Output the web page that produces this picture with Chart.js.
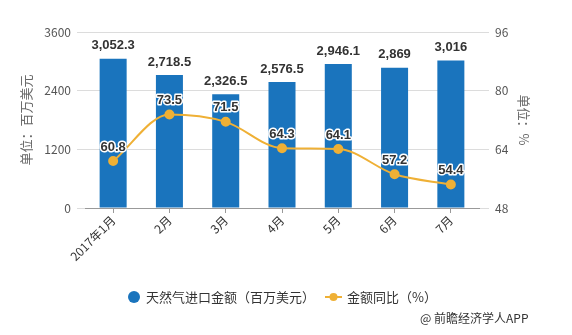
<!DOCTYPE html>
<html>
<head>
<meta charset="utf-8">
<script src="https://cdn.jsdelivr.net/npm/chart.js@4.4.0/dist/chart.umd.min.js"></script>
<style>
    body { margin: 0; background: #fff; }
    #gasChart { display: block; }
</style>
</head>
<body>
<canvas id="gasChart" width="572" height="335"></canvas>
<script>
const months = ['2017年1月', '2月', '3月', '4月', '5月', '6月', '7月'];
const importValue = [3052.3, 2718.5, 2326.5, 2576.5, 2946.1, 2869, 3016];
const yoyRate = [60.8, 73.5, 71.5, 64.3, 64.1, 57.2, 54.4];
const leftTicks = [0, 1200, 2400, 3600];
const rightTicks = [48, 64, 80, 96];

const barColor = '#1a74bd';
const lineColor = '#efb035';
const cjk = '"Noto Sans CJK SC", "Microsoft YaHei", sans-serif';

// value labels above bars and line points
const valueLabels = {
    id: 'valueLabels',
    afterDatasetsDraw(chart) {
        const ctx = chart.ctx;
        ctx.save();
        ctx.textAlign = 'center';
        ctx.textBaseline = 'middle';

        chart.getDatasetMeta(0).data.forEach((bar, i) => {
            ctx.font = 'bold 13px "Liberation Sans", Arial, sans-serif';
            ctx.fillStyle = '#333';
            ctx.fillText(importValue[i].toLocaleString('en-US'), bar.x, bar.y - 13);
        });

        chart.getDatasetMeta(1).data.forEach((pt, i) => {
            ctx.font = 'bold 13px "Liberation Sans", Arial, sans-serif';
            ctx.lineWidth = 3;
            ctx.strokeStyle = '#fff';
            ctx.lineJoin = 'round';
            ctx.strokeText(yoyRate[i].toFixed(1), pt.x, pt.y - 14);
            ctx.fillStyle = '#333';
            ctx.fillText(yoyRate[i].toFixed(1), pt.x, pt.y - 14);
        });
        ctx.restore();
    }
};

// legend and source line under the chart
const bottomText = {
    id: 'bottomText',
    afterDraw(chart) {
        const ctx = chart.ctx;
        ctx.save();
        ctx.textBaseline = 'middle';
        ctx.font = '13px ' + cjk;
        ctx.fillStyle = '#333';

        ctx.beginPath();
        ctx.arc(134, 297, 6, 0, Math.PI * 2);
        ctx.fillStyle = barColor;
        ctx.fill();
        ctx.fillStyle = '#333';
        ctx.fillText(chart.data.datasets[0].label, 146, 297);

        ctx.strokeStyle = lineColor;
        ctx.lineWidth = 2;
        ctx.beginPath();
        ctx.moveTo(325, 297);
        ctx.lineTo(342, 297);
        ctx.stroke();
        ctx.beginPath();
        ctx.arc(333.5, 297, 4, 0, Math.PI * 2);
        ctx.fillStyle = lineColor;
        ctx.fill();
        ctx.fillStyle = '#333';
        ctx.fillText(chart.data.datasets[1].label, 347, 297);

        ctx.font = '12px ' + cjk;
        ctx.fillText('@ 前瞻经济学人APP', 420, 318);
        ctx.restore();
    }
};

const ctx = document.getElementById('gasChart').getContext('2d');
new Chart(ctx, {
    type: 'bar',
    data: {
        labels: months,
        datasets: [{
            label: '天然气进口金额（百万美元）',
            data: importValue,
            backgroundColor: barColor,
            categoryPercentage: 1,
            barPercentage: 0.48,
            yAxisID: 'y',
            order: 2
        }, {
            type: 'line',
            label: '金额同比（%）',
            data: yoyRate,
            borderColor: lineColor,
            backgroundColor: lineColor,
            borderWidth: 2,
            pointRadius: 4,
            pointHoverRadius: 4,
            cubicInterpolationMode: 'monotone',
            yAxisID: 'y1',
            order: 1
        }]
    },
    options: {
        responsive: false,
        animation: false,
        layout: {
            padding: { top: 32, left: 0, right: 0, bottom: 0 }
        },
        plugins: {
            legend: { display: false },
            tooltip: { enabled: false }
        },
        scales: {
            x: {
                grid: {
                    offset: false,
                    drawOnChartArea: false,
                    tickLength: 5,
                    color: '#999'
                },
                border: { color: '#999' },
                ticks: {
                    maxRotation: 45,
                    minRotation: 45,
                    padding: 0,
                    color: '#333',
                    font: { family: cjk, size: 12 }
                },
                afterFit(scale) { scale.height = 127; }
            },
            y: {
                position: 'left',
                min: 0,
                max: 3600,
                afterBuildTicks(scale) { scale.ticks = leftTicks.map(v => ({ value: v })); },
                grid: { color: '#dcdcdc', tickLength: 8 },
                border: { display: false },
                ticks: {
                    padding: 6,
                    color: '#555',
                    font: { family: cjk, size: 12 },
                    callback: v => String(v)
                },
                title: {
                    display: true,
                    text: '单位：百万美元',
                    color: '#666',
                    font: { family: cjk, size: 13 },
                    padding: { top: 18, bottom: 0 }
                },
                afterFit(scale) { scale.width = 85; }
            },
            y1: {
                position: 'right',
                min: 48,
                max: 96,
                afterBuildTicks(scale) { scale.ticks = rightTicks.map(v => ({ value: v })); },
                grid: { drawOnChartArea: false, color: '#dcdcdc', tickLength: 10 },
                border: { display: false },
                ticks: {
                    padding: 6,
                    color: '#555',
                    font: { family: cjk, size: 12 },
                    callback: v => String(v)
                },
                title: {
                    display: true,
                    text: '单位：%',
                    color: '#666',
                    font: { family: cjk, size: 13 },
                    padding: { top: 40, bottom: 0 }
                },
                afterFit(scale) { scale.width = 93; }
            }
        }
    },
    plugins: [valueLabels, bottomText]
});
</script>
</body>
</html>
